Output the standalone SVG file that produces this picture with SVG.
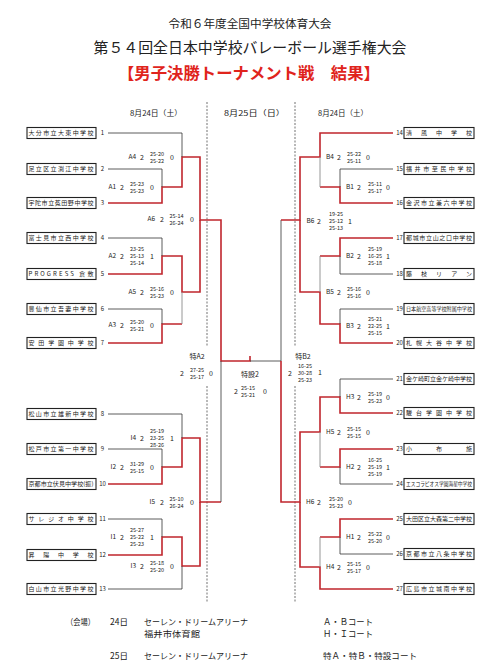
<svg xmlns="http://www.w3.org/2000/svg" width="500" height="667" viewBox="0 0 500 667">
<style>
text{font-family:"Noto Sans CJK JP","Noto Sans",sans-serif;fill:#222}
.h1{font-size:11.5px}
.h2{font-size:15px}
.h3{font-size:16px;font-weight:bold;fill:#e0241c}
.d{font-size:7.5px}
.t{font-size:6px}
.ts{font-size:5.2px}
.n{font-size:6px;text-anchor:middle}
.s{font-size:5.5px;text-anchor:middle;fill:#222}
.c{font-size:7px;text-anchor:middle;fill:#222}
.ce{font-size:6.5px;text-anchor:end;fill:#222}
.cs{font-size:6.5px;fill:#222}
.f{font-size:8.5px}
.box{fill:#fff;stroke:#222;stroke-width:1.1}
.r{fill:none;stroke:#c0262d;stroke-width:1.6}
.k{fill:none;stroke:#333;stroke-width:0.8}
.g{fill:none;stroke:#8a8a8a;stroke-width:0.9}
.dash{fill:none;stroke:#333;stroke-width:0.7;stroke-dasharray:2 1.5}
</style>

<g id="title">
<text class="h1" x="250" y="28.4" text-anchor="middle" textLength="163" lengthAdjust="spacingAndGlyphs">令和６年度全国中学校体育大会</text>
<text class="h2" x="250" y="52.6" text-anchor="middle" textLength="313" lengthAdjust="spacingAndGlyphs">第５４回全日本中学校バレーボール選手権大会</text>
<text class="h3" x="249" y="79" text-anchor="middle" textLength="262" lengthAdjust="spacingAndGlyphs">【男子決勝トーナメント戦　結果】</text>
</g>

<g id="dates">
<text class="d" x="130" y="116" textLength="52" lengthAdjust="spacingAndGlyphs">8月24日（土）</text>
<text class="d" x="224" y="116" textLength="61" lengthAdjust="spacingAndGlyphs">8月25日（日）</text>
<text class="d" x="318" y="116" textLength="50" lengthAdjust="spacingAndGlyphs">8月24日（土）</text>
</g>

<g id="dividers">
<path class="dash" d="M207,102 V346 M207,386 V603 M295,102 V346 M295,386 V603"/>
</g>

<g id="connectors">
<path class="r" d="M108,203 H162 V187 H182 V157 H200 V220 H221 V361 H250 V356"/>
<path class="r" d="M108,274 H162 V256 H182 V292 H200 V220"/>
<path class="r" d="M108,343 H162 V324 H182"/>
<path class="r" d="M108,484 H162 V467 H182 V438 H200 V502 H221"/>
<path class="r" d="M108,555 H162 V537 H182 V566 H200 V502"/>
<path class="k" d="M108,133 H182 V157"/>
<path class="k" d="M108,169 H162 V187"/>
<path class="k" d="M108,238 H162 V256"/>
<path class="k" d="M108,309 H162 V324"/>
<path class="k" d="M108,414 H182 V438"/>
<path class="k" d="M108,449 H162 V467"/>
<path class="k" d="M108,519 H162 V537"/>
<path class="k" d="M108,589 H182 V566"/>
<path class="k" d="M221,502 V361"/>
<path class="k" d="M250,361 H281 V220"/>
<path class="g" d="M182,324 V292"/>
<path class="r" d="M393,133 H320 V157 H300 V220 H281"/>
<path class="r" d="M393,203 H340 V187 H320"/>
<path class="r" d="M393,238 H340 V256 H320"/>
<path class="r" d="M393,343 H340 V324 H320 V292 H300 V220"/>
<path class="r" d="M393,413 H340 V397 H320 V432 H300 V502 H281 V361"/>
<path class="r" d="M393,449 H340 V467 H320"/>
<path class="r" d="M393,519 H340 V537 H320"/>
<path class="r" d="M393,589 H320 V567 H300 V502"/>
<path class="k" d="M393,169 H340 V187"/>
<path class="k" d="M393,274 H340 V256"/>
<path class="k" d="M393,309 H340 V324"/>
<path class="k" d="M393,379 H340 V397"/>
<path class="k" d="M393,484 H340 V467"/>
<path class="k" d="M393,554 H340 V537"/>
<path class="g" d="M320,187 V157 M320,256 V292 M320,467 V432 M320,537 V567"/>
</g>

<g id="team1"><rect class="box" x="27" y="127.5" width="69" height="11"/><text class="t" x="28.5" y="135.2" textLength="65" lengthAdjust="spacing">大分市立大東中学校</text><text class="n" x="102.5" y="135.2">1</text></g>
<g id="team2"><rect class="box" x="27" y="163.5" width="69" height="11"/><text class="t" x="28.5" y="171.2" textLength="65" lengthAdjust="spacing">足立区立渕江中学校</text><text class="n" x="102.5" y="171.2">2</text></g>
<g id="team3"><rect class="box" x="27" y="197.5" width="69" height="11"/><text class="t" x="28.5" y="205.2" textLength="65" lengthAdjust="spacing">宇陀市立菟田野中学校</text><text class="n" x="102.5" y="205.2">3</text></g>
<g id="team4"><rect class="box" x="27" y="232.5" width="69" height="11"/><text class="t" x="28.5" y="240.2" textLength="65" lengthAdjust="spacing">富士見市立西中学校</text><text class="n" x="102.5" y="240.2">4</text></g>
<g id="team5"><rect class="box" x="27" y="268.5" width="69" height="11"/><text class="t" x="28.5" y="276.2" textLength="65" lengthAdjust="spacing">PROGRESS 倉敷</text><text class="n" x="102.5" y="276.2">5</text></g>
<g id="team6"><rect class="box" x="27" y="303.5" width="69" height="11"/><text class="t" x="28.5" y="311.2" textLength="65" lengthAdjust="spacing">豊仙市立吾妻中学校</text><text class="n" x="102.5" y="311.2">6</text></g>
<g id="team7"><rect class="box" x="27" y="337.5" width="69" height="11"/><text class="t" x="28.5" y="345.2" textLength="65" lengthAdjust="spacing">安田学園中学校</text><text class="n" x="102.5" y="345.2">7</text></g>
<g id="team8"><rect class="box" x="27" y="408.5" width="69" height="11"/><text class="t" x="28.5" y="416.2" textLength="65" lengthAdjust="spacing">松山市立雄新中学校</text><text class="n" x="102.5" y="416.2">8</text></g>
<g id="team9"><rect class="box" x="27" y="443.5" width="69" height="11"/><text class="t" x="28.5" y="451.2" textLength="65" lengthAdjust="spacing">松戸市立第一中学校</text><text class="n" x="102.5" y="451.2">9</text></g>
<g id="team10"><rect class="box" x="27" y="478.5" width="69" height="11"/><text class="t" x="28.5" y="486.2" textLength="65" lengthAdjust="spacingAndGlyphs">京都市立伏見中学校(振)</text><text class="n" x="102.5" y="486.2">10</text></g>
<g id="team11"><rect class="box" x="27" y="513.5" width="69" height="11"/><text class="t" x="28.5" y="521.2" textLength="65" lengthAdjust="spacing">サレジオ中学校</text><text class="n" x="102.5" y="521.2">11</text></g>
<g id="team12"><rect class="box" x="27" y="549.5" width="69" height="11"/><text class="t" x="28.5" y="557.2" textLength="65" lengthAdjust="spacing">昇陽中学校</text><text class="n" x="102.5" y="557.2">12</text></g>
<g id="team13"><rect class="box" x="27" y="583.5" width="69" height="11"/><text class="t" x="28.5" y="591.2" textLength="65" lengthAdjust="spacing">白山市立光野中学校</text><text class="n" x="102.5" y="591.2">13</text></g>

<g id="team14"><rect class="box" x="404" y="127.5" width="70" height="11"/><text class="t" x="406" y="135.2" textLength="66" lengthAdjust="spacing">清風中学校</text><text class="n" x="399.5" y="135.2">14</text></g>
<g id="team15"><rect class="box" x="404" y="163.5" width="70" height="11"/><text class="t" x="406" y="171.2" textLength="66" lengthAdjust="spacing">福井市至民中学校</text><text class="n" x="399.5" y="171.2">15</text></g>
<g id="team16"><rect class="box" x="404" y="197.5" width="70" height="11"/><text class="t" x="406" y="205.2" textLength="66" lengthAdjust="spacing">金沢市立兼六中学校</text><text class="n" x="399.5" y="205.2">16</text></g>
<g id="team17"><rect class="box" x="404" y="232.5" width="70" height="11"/><text class="t" x="406" y="240.2" textLength="66" lengthAdjust="spacing">都城市立山之口中学校</text><text class="n" x="399.5" y="240.2">17</text></g>
<g id="team18"><rect class="box" x="404" y="268.5" width="70" height="11"/><text class="t" x="406" y="276.2" textLength="66" lengthAdjust="spacing">藤枝リアン</text><text class="n" x="399.5" y="276.2">18</text></g>
<g id="team19"><rect class="box" x="404" y="303.5" width="70" height="11"/><text class="ts" x="406" y="311" textLength="66" lengthAdjust="spacingAndGlyphs">日本航空高等学校附属中学校</text><text class="n" x="399.5" y="311.2">19</text></g>
<g id="team20"><rect class="box" x="404" y="337.5" width="70" height="11"/><text class="t" x="406" y="345.2" textLength="66" lengthAdjust="spacing">札幌大谷中学校</text><text class="n" x="399.5" y="345.2">20</text></g>
<g id="team21"><rect class="box" x="404" y="373.5" width="70" height="11"/><text class="t" x="406" y="381.2" textLength="66" lengthAdjust="spacingAndGlyphs">金ケ崎町立金ケ崎中学校</text><text class="n" x="399.5" y="381.2">21</text></g>
<g id="team22"><rect class="box" x="404" y="407.5" width="70" height="11"/><text class="t" x="406" y="415.2" textLength="66" lengthAdjust="spacing">駿台学園中学校</text><text class="n" x="399.5" y="415.2">22</text></g>
<g id="team23"><rect class="box" x="404" y="443.5" width="70" height="11"/><text class="t" x="406" y="451.2" textLength="66" lengthAdjust="spacing">小布施</text><text class="n" x="399.5" y="451.2">23</text></g>
<g id="team24"><rect class="box" x="404" y="478.5" width="70" height="11"/><text class="ts" x="406" y="486" textLength="66" lengthAdjust="spacingAndGlyphs">エスコラピオス学園海星中学校</text><text class="n" x="399.5" y="486.2">24</text></g>
<g id="team25"><rect class="box" x="404" y="513.5" width="70" height="11"/><text class="t" x="406" y="521.2" textLength="66" lengthAdjust="spacingAndGlyphs">大田区立大森第二中学校</text><text class="n" x="399.5" y="521.2">25</text></g>
<g id="team26"><rect class="box" x="404" y="548.5" width="70" height="11"/><text class="t" x="406" y="556.2" textLength="66" lengthAdjust="spacing">京都市立八条中学校</text><text class="n" x="399.5" y="556.2">26</text></g>
<g id="team27"><rect class="box" x="404" y="583.5" width="70" height="11"/><text class="t" x="406" y="591.2" textLength="66" lengthAdjust="spacing">広島市立城南中学校</text><text class="n" x="399.5" y="591.2">27</text></g>

<g id="mA4"><text class="ce" x="136" y="159.4">A4</text><text class="c" x="142" y="159.5">2</text><text class="s" x="157" y="155.5">25-20</text><text class="s" x="157" y="162.5">25-22</text><text class="c" x="172" y="159.5">0</text></g>
<g id="mA1"><text class="ce" x="116" y="189.4">A1</text><text class="c" x="122" y="189.5">2</text><text class="s" x="137" y="185.5">25-23</text><text class="s" x="137" y="192.5">25-23</text><text class="c" x="152" y="189.5">0</text></g>
<g id="mA6"><text class="ce" x="155" y="221.4">A6</text><text class="c" x="162" y="221.5">2</text><text class="s" x="176.5" y="217.5">25-14</text><text class="s" x="176.5" y="224.5">26-24</text><text class="c" x="192" y="221.5">0</text></g>
<g id="mA2"><text class="ce" x="116" y="258.4">A2</text><text class="c" x="122" y="258.5">2</text><text class="s" x="137" y="250.7">23-25</text><text class="s" x="137" y="258">25-13</text><text class="s" x="137" y="265.3">25-14</text><text class="c" x="152" y="258.5">1</text></g>
<g id="mA5"><text class="ce" x="136" y="294.4">A5</text><text class="c" x="142" y="294.5">2</text><text class="s" x="157" y="290.5">25-16</text><text class="s" x="157" y="297.5">25-23</text><text class="c" x="172" y="294.5">0</text></g>
<g id="mA3"><text class="ce" x="116" y="327.4">A3</text><text class="c" x="122" y="327.5">2</text><text class="s" x="137" y="323.5">25-20</text><text class="s" x="137" y="330.5">25-21</text><text class="c" x="152" y="327.5">0</text></g>
<g id="mI4"><text class="ce" x="136" y="440.4">I4</text><text class="c" x="142" y="440.5">2</text><text class="s" x="157" y="432.7">25-19</text><text class="s" x="157" y="440">23-25</text><text class="s" x="157" y="447.3">28-26</text><text class="c" x="172" y="440.5">1</text></g>
<g id="mI2"><text class="ce" x="116" y="469.4">I2</text><text class="c" x="122" y="469.5">2</text><text class="s" x="137" y="465.5">31-29</text><text class="s" x="137" y="472.5">25-15</text><text class="c" x="152" y="469.5">0</text></g>
<g id="mI5"><text class="ce" x="155" y="504.4">I5</text><text class="c" x="162" y="504.5">2</text><text class="s" x="176.5" y="500.5">25-10</text><text class="s" x="176.5" y="507.5">26-24</text><text class="c" x="192" y="504.5">0</text></g>
<g id="mI1"><text class="ce" x="116" y="539.4">I1</text><text class="c" x="122" y="539.5">2</text><text class="s" x="137" y="531.7">25-27</text><text class="s" x="137" y="539">25-22</text><text class="s" x="137" y="546.3">25-23</text><text class="c" x="152" y="539.5">1</text></g>
<g id="mI3"><text class="ce" x="136" y="568.4">I3</text><text class="c" x="142" y="568.5">2</text><text class="s" x="157" y="564.5">25-18</text><text class="s" x="157" y="571.5">25-20</text><text class="c" x="172" y="568.5">0</text></g>

<g id="mB4"><text class="cs" x="326" y="159.4">B4</text><text class="c" x="339" y="159.5">2</text><text class="s" x="354" y="155.5">25-22</text><text class="s" x="354" y="162.5">25-11</text><text class="c" x="368" y="159.5">0</text></g>
<g id="mB1"><text class="cs" x="346" y="189.4">B1</text><text class="c" x="359" y="189.5">2</text><text class="s" x="375" y="185.5">25-11</text><text class="s" x="375" y="192.5">25-17</text><text class="c" x="388" y="189.5">0</text></g>
<g id="mB6"><text class="cs" x="306.5" y="223.4">B6</text><text class="c" x="319" y="223.5">2</text><text class="s" x="336" y="215.7">19-25</text><text class="s" x="336" y="223">25-12</text><text class="s" x="336" y="230.3">25-13</text><text class="c" x="350" y="223.5">1</text></g>
<g id="mB2"><text class="cs" x="346" y="258.4">B2</text><text class="c" x="359" y="258.5">2</text><text class="s" x="375" y="250.7">25-19</text><text class="s" x="375" y="258">16-25</text><text class="s" x="375" y="265.3">25-18</text><text class="c" x="388" y="258.5">1</text></g>
<g id="mB5"><text class="cs" x="326" y="294.4">B5</text><text class="c" x="339" y="294.5">2</text><text class="s" x="354" y="290.5">25-16</text><text class="s" x="354" y="297.5">25-16</text><text class="c" x="368" y="294.5">0</text></g>
<g id="mB3"><text class="cs" x="346" y="328.4">B3</text><text class="c" x="359" y="328.5">2</text><text class="s" x="375" y="320.7">25-21</text><text class="s" x="375" y="328">22-25</text><text class="s" x="375" y="335.3">25-15</text><text class="c" x="388" y="328.5">1</text></g>
<g id="mH3"><text class="cs" x="346" y="399.4">H3</text><text class="c" x="359" y="399.5">2</text><text class="s" x="375" y="395.5">25-19</text><text class="s" x="375" y="402.5">25-23</text><text class="c" x="388" y="399.5">0</text></g>
<g id="mH5"><text class="cs" x="326" y="434.4">H5</text><text class="c" x="339" y="434.5">2</text><text class="s" x="354" y="430.5">25-15</text><text class="s" x="354" y="437.5">25-15</text><text class="c" x="368" y="434.5">0</text></g>
<g id="mH2"><text class="cs" x="346" y="469.4">H2</text><text class="c" x="359" y="469.5">2</text><text class="s" x="375" y="461.7">16-25</text><text class="s" x="375" y="469">25-19</text><text class="s" x="375" y="476.3">25-19</text><text class="c" x="388" y="469.5">1</text></g>
<g id="mH6"><text class="cs" x="306" y="504.4">H6</text><text class="c" x="319" y="504.5">2</text><text class="s" x="336" y="500.5">25-20</text><text class="s" x="336" y="507.5">25-23</text><text class="c" x="350" y="504.5">0</text></g>
<g id="mH1"><text class="cs" x="346" y="539.4">H1</text><text class="c" x="359" y="539.5">2</text><text class="s" x="375" y="535.5">25-22</text><text class="s" x="375" y="542.5">25-20</text><text class="c" x="388" y="539.5">0</text></g>
<g id="mH4"><text class="cs" x="326" y="569.4">H4</text><text class="c" x="339" y="569.5">2</text><text class="s" x="354" y="565.5">25-15</text><text class="s" x="354" y="572.5">25-17</text><text class="c" x="368" y="569.5">0</text></g>

<g id="mTA2"><text class="c" x="197" y="358.5">特A2</text><text class="c" x="182" y="375.5">2</text><text class="s" x="197" y="372">27-25</text><text class="s" x="197" y="379">25-17</text><text class="c" x="211" y="376">0</text></g>
<g id="mTS2"><text class="c" x="250" y="376.5">特設2</text><text class="c" x="236" y="393.5">2</text><text class="s" x="248" y="390">25-15</text><text class="s" x="248" y="397">25-21</text><text class="c" x="265" y="393.5">0</text></g>
<g id="mTB2"><text class="c" x="303" y="358.5">特B2</text><text class="c" x="290" y="375.5">2</text><text class="s" x="305" y="368">16-25</text><text class="s" x="305" y="375">30-28</text><text class="s" x="305" y="382">25-23</text><text class="c" x="320" y="374.5">1</text></g>

<g id="venue">
<text class="f" x="66" y="625" textLength="29" lengthAdjust="spacingAndGlyphs">（会場）</text>
<text class="f" x="110" y="625">24日</text>
<text class="f" x="144" y="625" textLength="104" lengthAdjust="spacingAndGlyphs">セーレン・ドリームアリーナ</text>
<text class="f" x="323" y="625" textLength="50" lengthAdjust="spacingAndGlyphs">Ａ・Ｂコート</text>
<text class="f" x="144" y="637" textLength="56" lengthAdjust="spacingAndGlyphs">福井市体育館</text>
<text class="f" x="323" y="637" textLength="50" lengthAdjust="spacingAndGlyphs">Ｈ・Ｉコート</text>
<text class="f" x="110" y="659">25日</text>
<text class="f" x="144" y="659" textLength="104" lengthAdjust="spacingAndGlyphs">セーレン・ドリームアリーナ</text>
<text class="f" x="323" y="659" textLength="94" lengthAdjust="spacingAndGlyphs">特Ａ・特Ｂ・特設コート</text>
</g>
</svg>
